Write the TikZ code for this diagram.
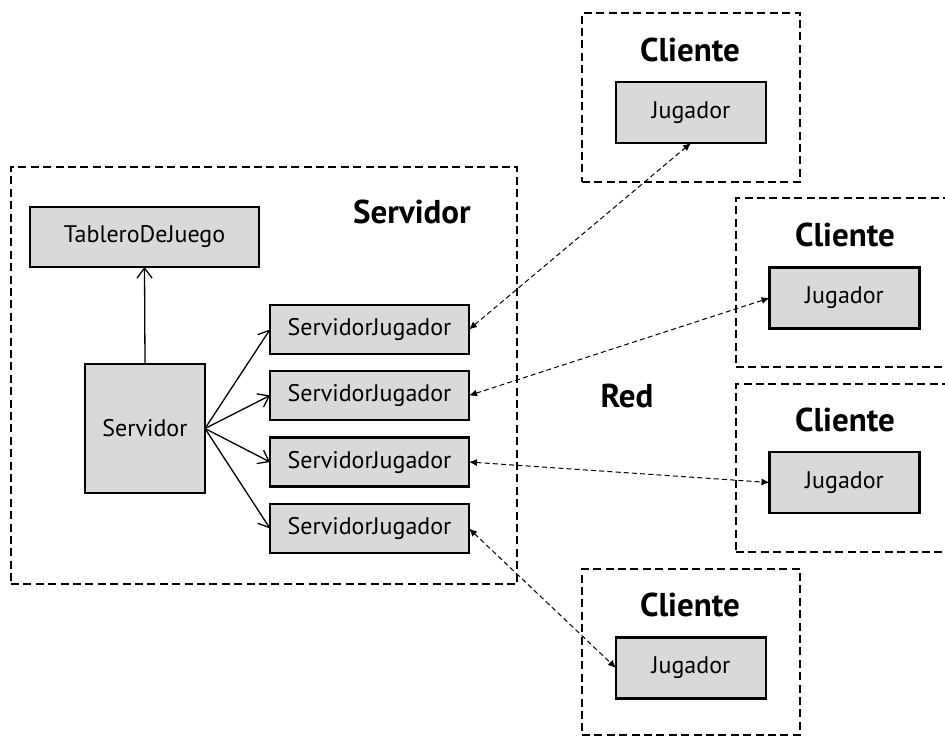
\documentclass[tikz,border=0pt]{standalone}
\usepackage{fontspec}
\setmainfont{PT Sans}
\usetikzlibrary{arrows.meta}
\definecolor{box-gray}{HTML}{D9D9D9}

\begin{document}
\begin{tikzpicture}[x=0.5pt, y=-0.5pt,
    area/.style={draw, dashed, dash pattern=on 4pt off 2.2pt, line width=0.7pt,
                 inner sep=0pt, outer sep=0pt},
    box/.style={draw, line width=1.2pt, fill=box-gray, inner sep=0pt,
                outer sep=0pt, font=\fontsize{12}{14}\selectfont},
    sjbox/.style={box, minimum width=99.5pt, minimum height=24.5pt},
    jbox/.style={box, minimum width=75pt, minimum height=30.5pt},
    title/.style={font=\fontsize{16.5}{19}\selectfont\bfseries},
    arr/.style={-{Straight Barb[length=5pt,width=7.5pt]}, line width=0.65pt},
    net/.style={{Latex[length=4pt,width=3.5pt]}-{Latex[length=4pt,width=3.5pt]},
                dashed, dash pattern=on 2.5pt off 1.6pt, line width=0.5pt},
  ]
    \clip (0,0) rectangle (945,737);
    \useasboundingbox (0,0) rectangle (945,737);

    % Servidor side
    \node[area, minimum width=253pt, minimum height=208.5pt] (srvarea) at (264,375.5) {};
    \node[title] (srvlbl) at (412,212) {Servidor};
    \node[box, minimum width=114.5pt, minimum height=30pt] (tablero) at (144.5,237) {TableroDeJuego};
    \node[box, minimum width=60pt, minimum height=64.5pt] (srv) at (145,428.5) {Servidor};
    \node[sjbox] (sj1) at (369.5,329.5) {ServidorJugador};
    \node[sjbox] (sj2) at (369.5,395.5) {ServidorJugador};
    \node[sjbox] (sj3) at (369.5,462) {ServidorJugador};
    \node[sjbox] (sj4) at (369.5,528.5) {ServidorJugador};

    % Red
    \node[title] (red) at (627,396) {Red};

    % Clientes
    \node[area, minimum width=109pt, minimum height=84.5pt] (cli1) at (691,97.5) {};
    \node[title] (cli1lbl) at (690,50) {Cliente};
    \node[jbox] (jug1) at (691,112.5) {Jugador};

    \node[area, minimum width=120pt, minimum height=84.5pt] (cli2) at (856,282.5) {};
    \node[title] (cli2lbl) at (845,235) {Cliente};
    \node[jbox] (jug2) at (844.5,298) {Jugador};

    \node[area, minimum width=120pt, minimum height=84pt] (cli3) at (856,468) {};
    \node[title] (cli3lbl) at (845,420) {Cliente};
    \node[jbox] (jug3) at (844.5,482.5) {Jugador};

    \node[area, minimum width=109pt, minimum height=83pt] (cli4) at (691,652) {};
    \node[title] (cli4lbl) at (690,605) {Cliente};
    \node[jbox] (jug4) at (691,668) {Jugador};

    % Arrows
    \draw[arr] (srv.north) -- (tablero.south);
    \foreach \i in {1,...,4}
      \draw[arr] (srv.east) -- (sj\i.west);

    \draw[net] (sj1.east) -- (jug1.south);
    \draw[net] (sj2.east) -- (jug2.west);
    \draw[net] (sj3.east) -- (jug3.west);
    \draw[net] (sj4.east) -- (jug4.west);
  \end{tikzpicture}
\end{document}
